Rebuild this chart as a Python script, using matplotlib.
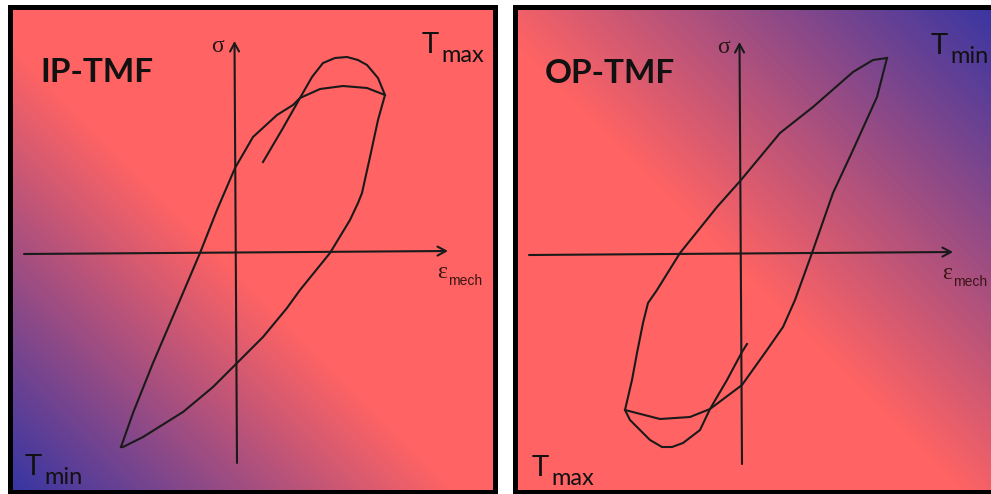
import numpy as np
import matplotlib
matplotlib.use("Agg")
import matplotlib.pyplot as plt
from matplotlib.colors import LinearSegmentedColormap

# hysteresis loops, (strain, stress) in px relative to the axis crossing, stress up
ipLoopX = [-115, -103, -83, -59, -36, -19, -1, 17, 41, 57, 64, 84, 107, 131, 149,
           142, 134, 126, 122, 114, 94, 64, 51, 27, 1, -23, -53, -93, -113, -115]
ipLoopY = [-194, -160, -110, -54, 0, 43, 85, 116, 138, 148, 155, 164, 167, 165, 158,
           133, 96, 60, 50, 33, 0, -37, -55, -84, -110, -134, -159, -184, -194, -194]
ipStartX = [27, 47, 64, 76, 87, 99, 111, 122, 131, 142, 149]
ipStartY = [91, 125, 155, 176, 190, 195, 196, 193, 188, 175, 158]

opLoopX = [146, 132, 112, 72, 39, 0, -24, -61, -84, -93, -98, -104, -109, -116,
           -81, -51, -31, 1, 26, 42, 54, 71, 92, 112, 136, 146]
opLoopY = [196, 194, 182, 147, 121, 74, 47, 1, -36, -49, -69, -99, -126, -156,
           -165, -163, -155, -131, -96, -73, -46, 1, 61, 104, 157, 196]
opStartX = [6, 1, -14, -31, -41, -58, -69, -79, -91, -101, -111, -116]
opStartY = [-90, -98, -126, -155, -176, -189, -193, -193, -186, -176, -166, -156]

panelTitles = ["IP-TMF", "OP-TMF"]
cornerTop = [("T", "max"), ("T", "min")]
cornerBottom = [("T", "min"), ("T", "max")]

red = (1.0, 0.39, 0.39)
blue = (0.21, 0.21, 0.64)
cmap = LinearSegmentedColormap.from_list("tmf", [red, blue])

W, H = 991, 494
fig = plt.figure(figsize=(W / 100, H / 100), dpi=100)
fig.patch.set_facecolor("white")

# panel boxes in px (left, right, top, bottom) and axis origin
boxes = [(9.5, 494.5, 7.5, 491.5), (514.5, 999.5, 7.5, 491.5)]
origins = [(236, 253), (741, 254)]
gradStart = [0.08, -0.08]

txtFont = "Lato"
ink = "#1a1a1a"

for i in range(2):
    l, r, t, b = boxes[i]
    ox, oy = origins[i]
    ax = fig.add_axes([l / W, (H - b) / H, (r - l) / W, (b - t) / H])
    x0, x1 = l - ox, r - ox
    y0, y1 = oy - b, oy - t
    ax.set_xlim(x0, x1)
    ax.set_ylim(y0, y1)

    # diagonal colour gradient
    u, v = np.meshgrid(np.linspace(0, 1, 300), np.linspace(0, 1, 300))  # v from top
    if i == 0:
        s = v - u
    else:
        s = u - v
    s0 = gradStart[i]
    tt = np.clip((s - s0) / (1 - s0), 0, 1)
    ax.imshow(tt, cmap=cmap, vmin=0, vmax=1, extent=[x0, x1, y0, y1],
              origin="upper", aspect="auto", zorder=0, interpolation="bilinear")

    # coordinate axes with open arrow heads
    arrow = dict(arrowstyle="->,head_length=0.5,head_width=0.27",
                 lw=1.5, color=ink, mutation_scale=12, shrinkA=0, shrinkB=0)
    ax.annotate("", xy=(212, 2), xytext=(-212, -1), arrowprops=arrow)
    ax.annotate("", xy=(-1.5, 212), xytext=(1, -210), arrowprops=arrow)
    ax.text(-18, 206, "σ", fontsize=17, family="Liberation Serif",
            color="#2a1515", ha="center", va="center")
    ax.text(201, -25, "ε", fontsize=17, family="Liberation Serif",
            color="#3a1515", ha="left", va="baseline")
    ax.text(212, -32, "mech", fontsize=10, family="Liberation Sans",
            color="#3a1515", ha="left", va="baseline")

    if i == 0:
        ax.plot(ipLoopX, ipLoopY, color=ink, lw=1.5, solid_joinstyle="round")
        ax.plot(ipStartX, ipStartY, color=ink, lw=1.5, solid_joinstyle="round")
    else:
        ax.plot(opLoopX, opLoopY, color=ink, lw=1.5, solid_joinstyle="round")
        ax.plot(opStartX, opStartY, color=ink, lw=1.5, solid_joinstyle="round")

    ax.text(-196, 171, panelTitles[i], fontsize=24, fontweight="bold",
            family=txtFont, color="#111111", ha="left", va="baseline")

    big, sub = cornerTop[i]
    tx = 186 if i == 0 else 190
    ax.text(tx, 200, big, fontsize=21, family=txtFont, color="#111111",
            ha="left", va="baseline")
    ax.text(tx + 19, 191, sub, fontsize=17, family=txtFont, color="#111111",
            ha="left", va="baseline")
    big, sub = cornerBottom[i]
    bx = -211 if i == 0 else -209
    ax.text(bx, -222, big, fontsize=21, family=txtFont, color="#111111",
            ha="left", va="baseline")
    ax.text(bx + 19, -231, sub, fontsize=17, family=txtFont, color="#111111",
            ha="left", va="baseline")

    ax.set_xticks([])
    ax.set_yticks([])
    for sp in ax.spines.values():
        sp.set_linewidth(3.6)
        sp.set_color("black")

fig.savefig("out.png", dpi=100, facecolor="white")
